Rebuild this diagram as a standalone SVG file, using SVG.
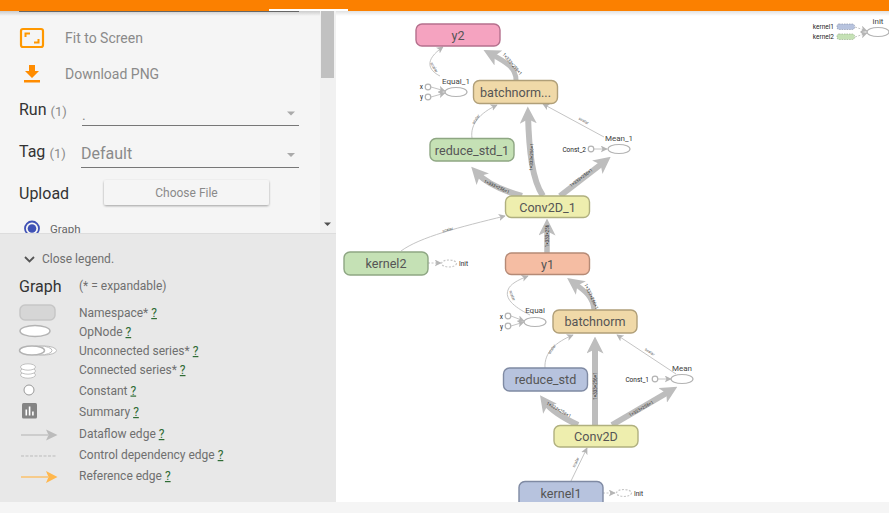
<svg xmlns="http://www.w3.org/2000/svg" width="889" height="513" viewBox="0 0 889 513">
<style>
text{font-family:Roboto,"Liberation Sans",sans-serif}
.side{font-size:14px;fill:#8a8a8a}
.lab{font-size:16px;fill:#333}
.cnt{font-size:13px;fill:#8a8a8a}
.leg{font-size:12px;fill:#6f6f6f}
.q{fill:#2e6b34;text-decoration:underline}
.nm{font-size:12.600px;fill:#555;text-anchor:middle}
.node{stroke-width:1.4}
.op{fill:#fff;stroke:#b3b3b3;stroke-width:1.2}
.dash{stroke-dasharray:2 1.5;stroke:#c8c8c8}
.sm{font-size:8px;fill:#444}
.xs{font-size:6.500px;fill:#222}
.e{fill:none;stroke:#bdbdbd}
.t{stroke-width:.9;marker-end:url(#ah)}
.k{stroke-width:6;marker-end:url(#ak)}
.c{stroke-width:.9;stroke-dasharray:2 1.5;marker-end:url(#ah)}
.el{font-size:4px;fill:#555;text-anchor:middle}
.ek{font-size:4.500px;fill:#333;text-anchor:middle}
.ic{fill:#ff8c00}
</style>
<defs>
<marker id="ah" markerUnits="userSpaceOnUse" viewBox="0 0 10 10" refX="9" refY="5" markerWidth="7" markerHeight="7" orient="auto"><path d="M0 0L10 5L0 10L2.500 5z" fill="#b5b5b5"/></marker>
<marker id="ak" markerUnits="userSpaceOnUse" viewBox="0 0 10 10" refX="5" refY="5" markerWidth="17" markerHeight="17" orient="auto"><path d="M0 0L10 5L0 10L2.500 5z" fill="#bdbdbd"/></marker>
<linearGradient id="sh" x1="0" y1="0" x2="0" y2="1"><stop offset="0" stop-color="#aaa"/><stop offset="1" stop-color="#aaa" stop-opacity="0"/></linearGradient>
<filter id="bs" x="-10%" y="-20%" width="120%" height="150%"><feDropShadow dx="0" dy="1" stdDeviation="1.200" flood-color="#000" flood-opacity=".35"/></filter>
<clipPath id="sc"><rect x="0" y="11" width="320" height="223"/></clipPath>
</defs>
<rect width="889" height="513" fill="#fff"/>

<g id="connectors">
<path class="e t" d="M571 481L587 448"/>
<path class="e k" d="M578 425Q553 413 545 402"/>
<path class="e k" d="M595 425V345"/>
<path class="e k" d="M612 425L670 391"/>
<path class="e t" d="M545 368C544 352 556 342 573 335"/>
<path class="e t" d="M676 374L617 335"/>
<path class="e" stroke-width="5" style="marker-end:url(#ak)" d="M594 310C593 297 585 291 574 283"/>
<path class="e t" d="M530 315C512 306 505 298 508 290C510 284 518 280 528 276"/>
<path class="e t" d="M511 316L524 321"/>
<path class="e t" d="M511 326L524 322"/>
<path class="e t" d="M658 379H671"/>
<path class="e" stroke-width="5.500" style="marker-end:url(#ak)" d="M547 253V227"/>
<path class="e t" d="M401 251C420 237 460 227 505 216"/>
<path class="e k" d="M522 196Q490 187 477 173"/>
<path class="e k" d="M543 196C532 180 529 150 528 115"/>
<path class="e k" d="M560 196L604 162"/>
<path class="e t" d="M472 138C470 124 480 113 497 105"/>
<path class="e t" d="M604 137L543 104"/>
<path class="e" stroke-width="5" style="marker-end:url(#ak)" d="M516 80C516 68 506 62 491 54"/>
<path class="e t" d="M440 76C428 70 424 60 443 47"/>
<path class="e t" d="M431 87L445 91"/>
<path class="e t" d="M431 97L445 93"/>
<path class="e t" d="M594 149H607"/>
<path class="e c" d="M428 263H441"/>
<path class="e c" d="M603 493H615"/>
<path class="e c" d="M855 27L867 31"/>
<path class="e c" d="M855 37L867 33"/>
<text class="el" transform="translate(577 463) rotate(-63)">scalar</text>
<text class="ek" transform="translate(558 411) rotate(30)">1×333×256×1</text>
<text class="ek" transform="translate(596.500 386) rotate(-90)">1×333×256×1</text>
<text class="ek" transform="translate(642 410) rotate(-30)">1×333×256×1</text>
<text class="el" transform="translate(553 350) rotate(-55)">scalar</text>
<text class="el" transform="translate(649 353) rotate(33)">scalar</text>
<text class="ek" transform="translate(590 297) rotate(65)">1×333×256×1</text>
<text class="el" transform="translate(511 296) rotate(70)">scalar</text>
<text class="ek" transform="translate(548.500 236) rotate(-90)">1×333×256</text>
<text class="el" transform="translate(448 231) rotate(-15)">scalar</text>
<text class="ek" transform="translate(496 188) rotate(25)">1×333×256×1</text>
<text class="ek" transform="translate(533 157) rotate(-88)">1×333×256×1</text>
<text class="ek" transform="translate(582 179) rotate(-37)">1×333×256×1</text>
<text class="el" transform="translate(477 120) rotate(-55)">scalar</text>
<text class="el" transform="translate(583 122) rotate(30)">scalar</text>
<text class="ek" transform="translate(511 65) rotate(50)">1×333×256×1</text>
<text class="el" transform="translate(433 68) rotate(60)">scalar</text>
</g>

<g id="y2"><rect class="node" x="416" y="24" width="84" height="22" rx="6" fill="#f5a3c0" stroke="#b5708d"/><text class="nm" x="458" y="40">y2</text></g>
<g id="batchnorm_1"><rect class="node" x="473.500" y="80.500" width="84" height="23" rx="6" fill="#f0d9a8" stroke="#b09f78"/><text class="nm" x="515.500" y="97">batchnorm...</text></g>
<g id="reduce_std_1"><rect class="node" x="430" y="138.500" width="84" height="22.500" rx="6" fill="#c5e1b5" stroke="#8ea683"/><text class="nm" x="472" y="154.500">reduce_std_1</text></g>
<g id="Conv2D_1"><rect class="node" x="505.500" y="196" width="84" height="21.500" rx="6" fill="#eeeeae" stroke="#b0b07f"/><text class="nm" x="547.500" y="211.500">Conv2D_1</text></g>
<g id="kernel2"><rect class="node" x="344" y="252" width="84" height="23" rx="6" fill="#c5e1b5" stroke="#8ea683"/><text class="nm" x="386" y="268">kernel2</text></g>
<g id="y1"><rect class="node" x="505.500" y="253" width="84" height="21.500" rx="6" fill="#f5bda3" stroke="#b58a76"/><text class="nm" x="547.500" y="268.500">y1</text></g>
<g id="batchnorm"><rect class="node" x="553" y="310" width="84" height="23" rx="6" fill="#f0d9a8" stroke="#b09f78"/><text class="nm" x="595" y="326">batchnorm</text></g>
<g id="reduce_std"><rect class="node" x="503.500" y="368" width="84" height="23" rx="6" fill="#b7c3de" stroke="#7f8aa3"/><text class="nm" x="545.500" y="384">reduce_std</text></g>
<g id="Conv2D"><rect class="node" x="554" y="425.500" width="84" height="21.500" rx="6" fill="#eeeeae" stroke="#b0b07f"/><text class="nm" x="596" y="441">Conv2D</text></g>
<g id="kernel1"><rect class="node" x="519" y="481.500" width="84" height="30" rx="6" fill="#b7c3de" stroke="#7f8aa3"/><text class="nm" x="561" y="498">kernel1</text></g>
<g id="Equal_1"><ellipse class="op" cx="456" cy="92" rx="11" ry="4.500"/><text class="sm" x="456" y="84" text-anchor="middle">Equal_1</text></g>
<g id="Equal_1_x"><circle class="op" cx="428" cy="87" r="2.800"/><text class="xs" x="423" y="89" text-anchor="end">x</text></g>
<g id="Equal_1_y"><circle class="op" cx="428" cy="97" r="2.800"/><text class="xs" x="423" y="99" text-anchor="end">y</text></g>
<g id="Mean_1"><ellipse class="op" cx="619" cy="149" rx="11" ry="4.500"/><text class="sm" x="619" y="141" text-anchor="middle">Mean_1</text></g>
<g id="Const_2"><circle class="op" cx="591" cy="149" r="2.800"/><text class="xs" x="586" y="151.500" text-anchor="end">Const_2</text></g>
<g id="kernel2_init"><ellipse class="op dash" cx="449" cy="263.500" rx="7.500" ry="3.500"/><text class="xs" x="459" y="266">Init</text></g>
<g id="Equal"><ellipse class="op" cx="535" cy="322" rx="11" ry="4.500"/><text class="sm" x="535" y="313" text-anchor="middle">Equal</text></g>
<g id="Equal_x"><circle class="op" cx="508" cy="316" r="2.800"/><text class="xs" x="503" y="318.500" text-anchor="end">x</text></g>
<g id="Equal_y"><circle class="op" cx="508" cy="326" r="2.800"/><text class="xs" x="503" y="328.500" text-anchor="end">y</text></g>
<g id="Mean"><ellipse class="op" cx="682" cy="379" rx="11" ry="4.500"/><text class="sm" x="682" y="371" text-anchor="middle">Mean</text></g>
<g id="Const_1"><circle class="op" cx="655" cy="379" r="2.800"/><text class="xs" x="649" y="381.500" text-anchor="end">Const_1</text></g>
<g id="kernel1_init"><ellipse class="op dash" cx="624" cy="493" rx="7.500" ry="3.500"/><text class="xs" x="634" y="495.500">Init</text></g>
<g id="aux_kernel1"><rect x="837" y="24" width="17.500" height="5.500" rx="2" fill="#b7c3de" stroke="#7f8aa3" stroke-width=".6" stroke-dasharray="1.500 1"/><text class="xs" x="834" y="29" text-anchor="end">kernel1</text></g>
<g id="aux_kernel2"><rect x="837" y="34" width="17.500" height="5.500" rx="2" fill="#c5e1b5" stroke="#8ea683" stroke-width=".6" stroke-dasharray="1.500 1"/><text class="xs" x="834" y="39" text-anchor="end">kernel2</text></g>
<g id="init"><ellipse class="op" cx="878" cy="32" rx="11" ry="4.500"/><text class="sm" x="878" y="24" text-anchor="middle">init</text></g>

<rect x="0" y="502" width="889" height="11" fill="#f5f5f5"/>

<rect x="0" y="11" width="336" height="223" fill="#f5f5f5"/>
<rect x="320" y="11" width="16" height="223" fill="#f1f1f1"/>
<rect x="321" y="11" width="13" height="67" fill="#c1c1c1"/>
<path d="M324 222.500H331L327.500 226z" fill="#505050"/>
<rect x="336" y="11" width="553" height="5" fill="url(#sh)" opacity=".35"/>
<rect x="0" y="11" width="320" height="5" fill="url(#sh)" opacity=".55"/>
<path d="M19 11.500H299" stroke="#666" stroke-width="1"/>
<rect x="0" y="0" width="889" height="11" fill="#fb8000"/>
<rect x="269" y="9" width="79" height="2" fill="#fff"/>

<rect x="21" y="29" width="22" height="18" rx="2" fill="none" stroke="#ff9800" stroke-width="2.200"/>
<path d="M25.500 37V33.500H30M38.500 39V42.500H34" fill="none" stroke="#ff9800" stroke-width="2"/>
<text class="side" x="65" y="43">Fit to Screen</text>
<path class="ic" d="M29 65H35V71H39L32 78L25 71H29zM24 80H40V82.500H24z"/>
<text class="side" x="65" y="79">Download PNG</text>
<text class="lab" x="19" y="115">Run</text><text class="cnt" x="50.500" y="115.500">(1)</text>
<text x="82" y="120" font-size="14" fill="#888">.</text>
<path d="M82 125.500H299" stroke="#777"/>
<path d="M287 111.500H295L291 115.500z" fill="#aaa"/>
<text class="lab" x="19" y="157">Tag</text><text class="cnt" x="49.500" y="157.500">(1)</text>
<text x="81" y="159" font-size="16" fill="#8a8a8a">Default</text>
<path d="M81 167.500H299" stroke="#777"/>
<path d="M287 153H295L291 157z" fill="#aaa"/>
<text class="lab" x="19" y="199">Upload</text>
<rect x="104" y="180" width="165" height="25" rx="2" fill="#f5f5f5" filter="url(#bs)"/>
<text x="186.500" y="197" font-size="12" fill="#8a8a8a" text-anchor="middle">Choose File</text>
<g clip-path="url(#sc)">
<circle cx="32" cy="228.500" r="7" fill="none" stroke="#3f51b5" stroke-width="1.800"/>
<circle cx="32" cy="228.500" r="4.300" fill="#3f51b5"/>
<text x="50" y="233" font-size="11.500" fill="#666">Graph</text>
</g>

<rect x="0" y="234" width="336" height="268" fill="#e8e8e8"/>
<path d="M0 233.500H336" stroke="#ddd"/>
<path d="M25 257L29.500 261.500L34 257" fill="none" stroke="#555" stroke-width="1.800"/>
<text class="leg" x="42" y="263">Close legend.</text>
<text x="19" y="292" font-size="16" fill="#333">Graph</text>
<text class="leg" x="79" y="290">(* = expandable)</text>

<rect x="20" y="305" width="35" height="15" rx="5" fill="#d6d6d6" stroke="#c6c6c6" stroke-width="1.500"/>
<text class="leg" x="79" y="317">Namespace* <tspan class="q">?</tspan></text>
<ellipse cx="35" cy="331" rx="15" ry="5.500" fill="#fff" stroke="#b3b3b3" stroke-width="1.500"/>
<text class="leg" x="79" y="336">OpNode <tspan class="q">?</tspan></text>
<ellipse cx="44" cy="350.500" rx="12.500" ry="4.500" fill="#fff" stroke="#bbb"/>
<ellipse cx="40" cy="350.500" rx="12" ry="4.500" fill="#fff" stroke="#bbb"/>
<ellipse cx="32" cy="350.500" rx="12.500" ry="4.500" fill="#fff" stroke="#b3b3b3" stroke-width="1.500"/>
<text class="leg" x="79" y="355">Unconnected series* <tspan class="q">?</tspan></text>
<g fill="#fff" stroke="#bbb" stroke-width=".9"><ellipse cx="28" cy="375" rx="7.500" ry="3.200"/><ellipse cx="28" cy="371" rx="7.500" ry="3.200"/><ellipse cx="28" cy="367" rx="7.500" ry="3.200"/></g>
<text class="leg" x="79" y="374">Connected series* <tspan class="q">?</tspan></text>
<circle cx="29" cy="390" r="5" fill="#fff" stroke="#999"/>
<text class="leg" x="79" y="394.500">Constant <tspan class="q">?</tspan></text>
<rect x="22" y="403" width="15" height="15.500" rx="1.500" fill="#848484"/>
<path d="M25.500 409.500h1.600v6h-1.600zM28.800 406.500h1.600v9h-1.600zM32.100 411.500h1.600v4h-1.600z" fill="#fff"/>
<text class="leg" x="79" y="416">Summary <tspan class="q">?</tspan></text>
<path d="M21 435H48" stroke="#bbb" stroke-width="1.200"/><path d="M46 429.500L57.500 435L46 440.500L48.500 435z" fill="#bbb"/>
<text class="leg" x="79" y="438">Dataflow edge <tspan class="q">?</tspan></text>
<path d="M21 456H57" stroke="#bbb" stroke-dasharray="3 1.500"/>
<text class="leg" x="79" y="459">Control dependency edge <tspan class="q">?</tspan></text>
<path d="M21 477H48" stroke="#ffb74d" stroke-width="1.200"/><path d="M46 471L57.500 477L46 483L48.500 477z" fill="#ffb74d"/>
<text class="leg" x="79" y="480">Reference edge <tspan class="q">?</tspan></text>
</svg>
